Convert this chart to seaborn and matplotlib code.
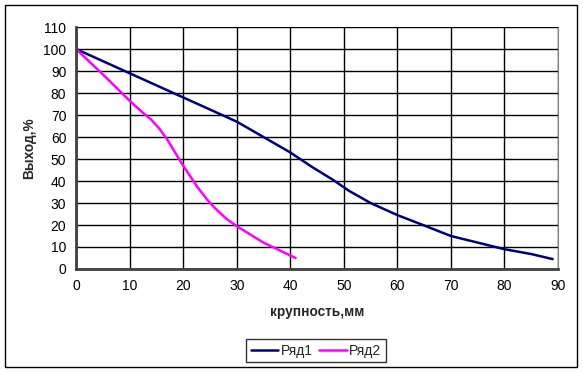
import numpy as np
import pandas as pd
import matplotlib
matplotlib.use("Agg")
import matplotlib.pyplot as plt
import seaborn as sns
from matplotlib.patches import Rectangle

s1_x = [0, 10, 20, 30, 35, 40, 44, 48, 51, 55, 60, 65, 70, 75, 80, 85, 89]
s1_y = [100, 89, 78, 67, 60, 53, 46.5, 40.5, 35.5, 30, 24.5, 19.8, 15, 12, 9, 6.8, 4.5]
s2_x = [0, 5, 10, 12.5, 14, 15.5, 17, 18.5, 20, 22.6, 24.5, 25.8, 28, 30, 35, 41]
s2_y = [100, 88.5, 76.5, 71, 68, 64, 59, 53, 47, 37.5, 31.5, 28, 23, 19.5, 12, 5]
series_names = ["Ряд1", "Ряд2"]
x_label = "крупность,мм"
y_label = "Выход,%"

df = pd.concat([
    pd.DataFrame({"x": s1_x, "y": s1_y, "s": series_names[0]}),
    pd.DataFrame({"x": s2_x, "y": s2_y, "s": series_names[1]}),
])

sns.set_style("white")
plt.rcParams['font.family'] = ['Liberation Sans', 'DejaVu Sans']

fig = plt.figure(figsize=(5.83, 3.72), dpi=100)
ax = fig.add_axes([76/583, 1-269/372, (558-76)/583, (269-27)/372])

sns.lineplot(data=df, x="x", y="y", hue="s", palette={"Ряд1": "#000080", "Ряд2": "#FF00FF"},
             sort=False, estimator=None, linewidth=1.8, ax=ax, legend=True)

ax.set_xlim(0, 90)
ax.set_ylim(0, 110)
ax.set_xticks(np.arange(0, 91, 10))
ax.set_yticks(np.arange(0, 111, 10))
ax.grid(True, color="black", linewidth=1.0)
ax.set_axisbelow(True)
ax.spines["top"].set_visible(False)
ax.spines["right"].set_color("#808080")
ax.spines["left"].set_color("#404040")
ax.spines["bottom"].set_color("#404040")
ax.spines["left"].set_linewidth(2)
ax.spines["bottom"].set_linewidth(2)
ax.tick_params(axis="both", direction="out", length=4, width=1.5, labelsize=10, pad=3, colors="black")
ax.set_xlabel(x_label, fontsize=9.8, fontweight="bold", labelpad=9)
ax.set_ylabel(y_label, fontsize=9.8, fontweight="bold", labelpad=5)

leg = ax.legend(loc="center", bbox_to_anchor=(316/583, 1-350.5/372), bbox_transform=fig.transFigure,
                ncol=2, frameon=True, fancybox=False, fontsize=10, handlelength=2.0,
                columnspacing=0.5, handletextpad=0.15, borderpad=0.35, edgecolor="black")
leg.get_frame().set_linewidth(1.0)

fig.patches.append(Rectangle((5/583, 5/372), (577-5)/583, (367-5)/372, transform=fig.transFigure,
                             fill=False, edgecolor="black", linewidth=1.0))

fig.savefig("out.png", dpi=100)
